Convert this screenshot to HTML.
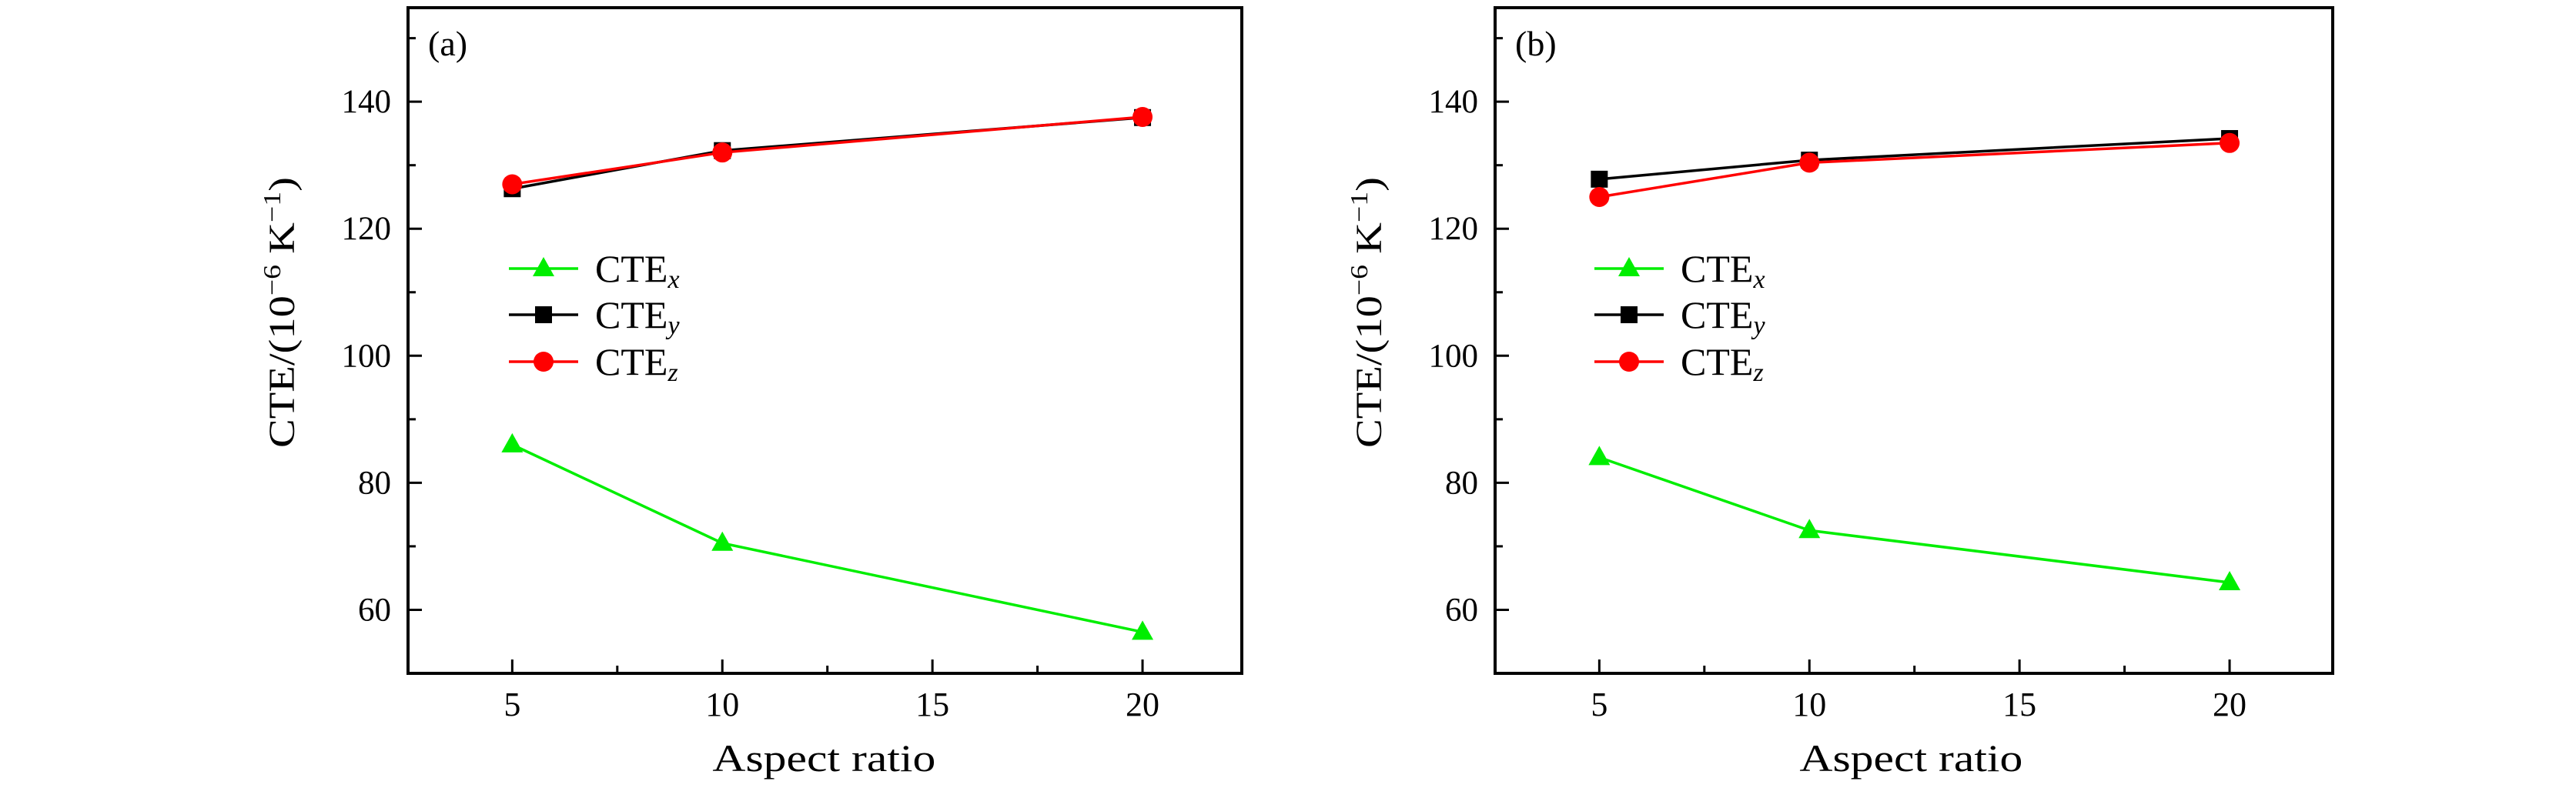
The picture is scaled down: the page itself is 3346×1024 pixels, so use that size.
<!DOCTYPE html>
<html><head><meta charset="utf-8"><style>
html,body{margin:0;padding:0;background:#fff;}
svg{display:block;font-family:"Liberation Serif",serif;}
</style></head><body>
<svg id="chart" width="3346" height="1024" viewBox="0 0 3346 1024" xmlns="http://www.w3.org/2000/svg"></svg>
<script>
const categories = [5, 10, 20];
const aCteX = [86, 70.5, 56.5];
const aCteY = [126.3, 132.3, 137.5];
const aCteZ = [127, 132, 137.6];
const bCteX = [84, 72.5, 64.3];
const bCteY = [127.8, 130.8, 134.2];
const bCteZ = [125, 130.4, 133.5];
const yTickLabels = [60, 80, 100, 120, 140];
const xTickLabels = [5, 10, 15, 20];

const NS = 'http://www.w3.org/2000/svg';
const svg = document.getElementById('chart');
function mk(tag, attrs, parent) {
  const e = document.createElementNS(NS, tag);
  for (const k in attrs) e.setAttribute(k, attrs[k]);
  (parent || svg).appendChild(e);
  return e;
}

function panel(opts) {
  const g = mk('g', {});
  
  
  const L = opts.left, R = opts.right, T = 10, B = 875;
  const xmin = 2.52, xmax = 5 + (R - (L + 135)) / 54.6;
  const ymin = 50, ymax = 154.8;
  const xs = v => L + (v - xmin) / (xmax - xmin) * (R - L);
  const ys = v => B - (v - ymin) / (ymax - ymin) * (B - T);

  const frame = mk('rect', {x: L, y: T, width: R - L, height: B - T, fill: 'none', stroke: '#000', 'stroke-width': 4}, g);
  
  

  // y ticks
  for (let v = 60; v <= 150; v += 10) {
    const major = v % 20 === 0;
    const t = mk('line', {x1: L, x2: L + (major ? 18 : 10), y1: ys(v), y2: ys(v), stroke: '#000', 'stroke-width': 3}, g);
    
    
  }
  if (opts.showYLabels) {}
  yTickLabels.forEach(v => {
    const t = mk('text', {x: L - 22, y: ys(v) + 14, 'font-size': 43, 'text-anchor': 'end'}, g);
    t.textContent = v;
    
    
  });
  // x ticks
  for (let v = 5; v <= 20; v += 2.5) {
    const major = v % 5 === 0;
    const t = mk('line', {x1: xs(v), x2: xs(v), y1: B, y2: B - (major ? 18 : 10), stroke: '#000', 'stroke-width': 3}, g);
    
    
  }
  xTickLabels.forEach(v => {
    const t = mk('text', {x: xs(v), y: 930, 'font-size': 44, 'text-anchor': 'middle'}, g);
    t.textContent = v;
    
    
  });
  const xl = mk('text', {x: xs(5) + 405, y: 1002, 'font-size': 50, 'text-anchor': 'middle', textLength: 290, lengthAdjust: 'spacingAndGlyphs'}, g);
  xl.textContent = 'Aspect ratio';
  
  

  const yl = mk('text', {x: 0, y: 0, 'font-size': 48, 'text-anchor': 'middle', transform: `translate(${L - 148},406) rotate(-90)`, textLength: 352, lengthAdjust: 'spacingAndGlyphs'}, g);
  yl.innerHTML = 'CTE/(10<tspan font-size="32" dy="-18">−6</tspan><tspan dy="18"> K</tspan><tspan font-size="32" dy="-18">−1</tspan><tspan dy="18">)</tspan>';
  
  

  const pl = mk('text', {x: L + 26, y: 72, 'font-size': 46}, g);
  pl.textContent = opts.label;
  
  

  function marker(kind, cx, cy, color, parent) {
    let m;
    if (kind === 'tri') m = mk('polygon', {points: `${cx},${cy - 15} ${cx - 14},${cy + 10} ${cx + 14},${cy + 10}`, fill: color}, parent);
    else if (kind === 'sq') m = mk('rect', {x: cx - 11, y: cy - 11, width: 22, height: 22, fill: color}, parent);
    else m = mk('circle', {cx: cx, cy: cy, r: 13, fill: color}, parent);
    return m;
  }
  const series = [
    {vals: opts.y, color: '#000', kind: 'sq', name: 'cte-y'},
    {vals: opts.z, color: '#f00', kind: 'circ', name: 'cte-z'},
    {vals: opts.x, color: '#0e0', kind: 'tri', name: 'cte-x'}
  ];
  series.forEach(s => {
    const sg = mk('g', {}, g);
    
    
    const pts = categories.map((c, i) => xs(c) + ',' + ys(s.vals[i])).join(' ');
    const ln = mk('polyline', {points: pts, fill: 'none', stroke: s.color, 'stroke-width': 3.5}, sg);
    
    
    categories.forEach((c, i) => {
      const m = marker(s.kind, xs(c), ys(s.vals[i]), s.color, sg);
      
      
    });
  });

  // legend
  const lg = mk('g', {}, g);
  
  
  const entries = [
    {color: '#0e0', kind: 'tri', sub: 'x', y: 349},
    {color: '#000', kind: 'sq', sub: 'y', y: 409},
    {color: '#f00', kind: 'circ', sub: 'z', y: 470}
  ];
  entries.forEach(e => {
    const eg = mk('g', {}, lg);
    
    
    mk('line', {x1: opts.legX, x2: opts.legX + 90, y1: e.y, y2: e.y, stroke: e.color, 'stroke-width': 3.5}, eg);
    marker(e.kind, opts.legX + 45, e.y, e.color, eg);
    const t = mk('text', {x: opts.legX + 112, y: e.y + 17, 'font-size': 50}, eg);
    t.innerHTML = 'CTE<tspan font-size="34" font-style="italic" dy="8">' + e.sub + '</tspan>';
  });
}

panel({name: 'panel-a', left: 530, right: 1613, label: '(a)', x: aCteX, y: aCteY, z: aCteZ, legX: 661});
panel({name: 'panel-b', left: 1942, right: 3030, label: '(b)', x: bCteX, y: bCteY, z: bCteZ, legX: 2071});
</script>
</body></html>
